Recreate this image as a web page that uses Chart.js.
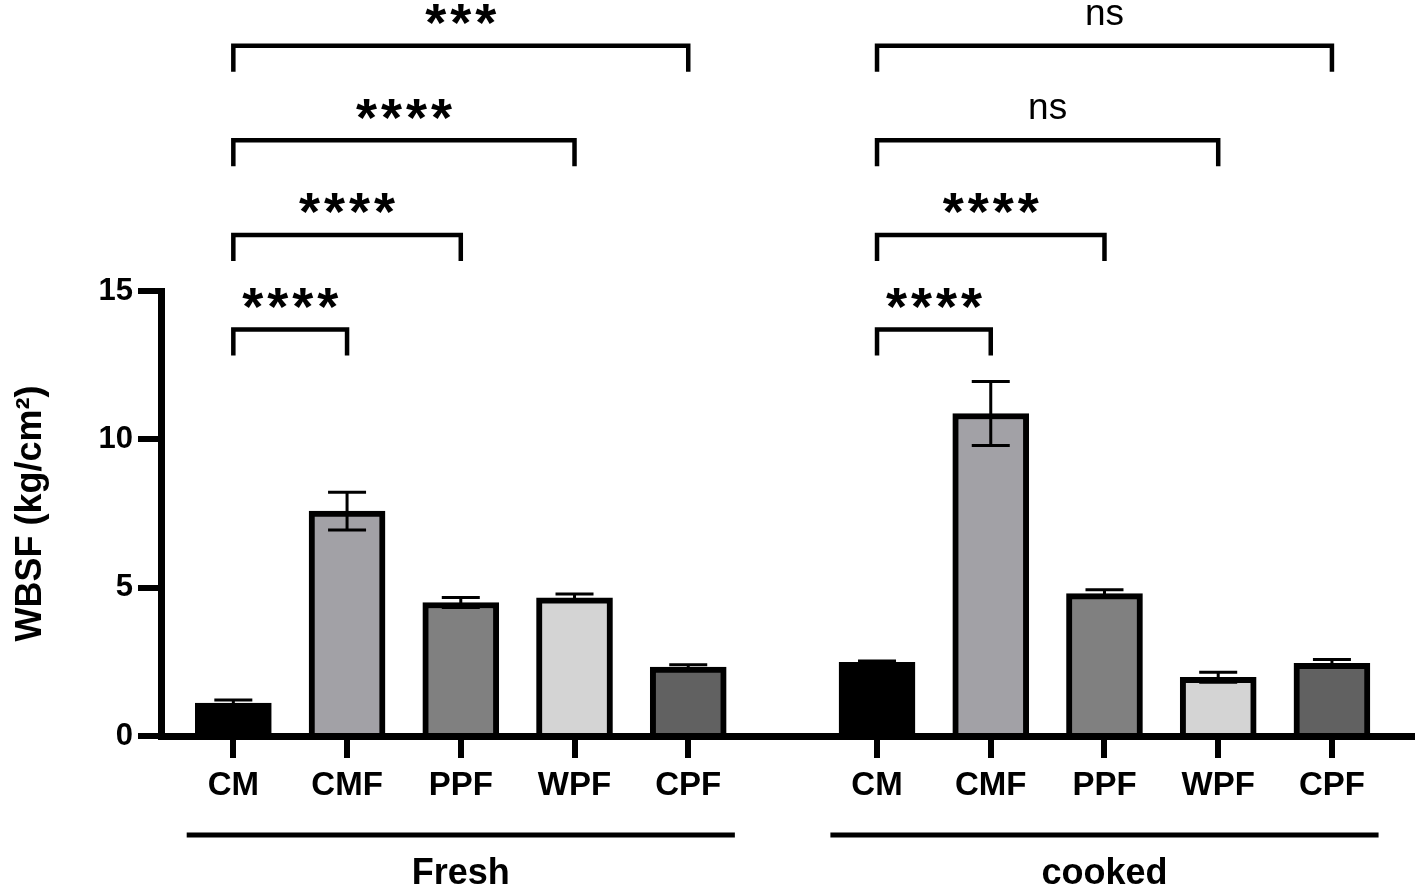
<!DOCTYPE html>
<html>
<head>
<meta charset="utf-8">
<script src="https://cdn.jsdelivr.net/npm/chart.js@4.4.1/dist/chart.umd.min.js"></script>
<style>
html,body{margin:0;padding:0;background:#ffffff;}
#wrap{width:1418px;height:888px;position:relative;}
</style>
</head>
<body>
<div id="wrap"><canvas id="c" width="1418" height="888"></canvas></div>
<script>
// ---------------- data ----------------
const categories = ['CM', 'CMF', 'PPF', 'WPF', 'CPF'];
const groups = ['Fresh', 'cooked'];
const freshMean = [1.11, 7.58, 4.50, 4.66, 2.32];
const freshSem = [0.10, 0.64, 0.17, 0.13, 0.08];
const cookedMean = [2.48, 10.87, 4.80, 1.98, 2.45];
const cookedSem = [0.05, 1.08, 0.13, 0.17, 0.13];
// significance vs CM (for CMF, PPF, WPF, CPF)
const freshSig = ['****', '****', '****', '***'];
const cookedSig = ['****', '****', 'ns', 'ns'];
const yTicks = [0, 5, 10, 15];
const barColors = ['#000000', '#a2a1a6', '#808080', '#d4d4d4', '#616161'];

// ---------------- layout helpers ----------------
const FONT = '"Liberation Sans", Arial, Helvetica, sans-serif';
const groupOffset = 5.66;          // distance (in category slots) between groups
const groupMeans = [freshMean, cookedMean];
const groupSems = [freshSem, cookedSem];
const groupSigs = [freshSig, cookedSig];
const xPositions = groups.map((g, gi) => categories.map((c, ci) => ci + gi * groupOffset));
const allPositions = xPositions.flat();
const tickLabels = groups.map(() => categories).flat();
const bracketBase = 13.7, bracketStep = 3.19;

const datasets = groups.map((g, gi) => ({
  label: g,
  data: categories.map((c, ci) => ({ x: xPositions[gi][ci], y: groupMeans[gi][ci] })),
  sem: groupSems[gi],
  backgroundColor: barColors,
  borderColor: '#000000',
  borderWidth: 6,
  borderSkipped: 'start',
  barThickness: 76,
  grouped: false
}));

const errorBarPlugin = {
  id: 'errorBars',
  afterDatasetsDraw(chart) {
    const ctx = chart.ctx, ys = chart.scales.y;
    chart.data.datasets.forEach((ds, di) => {
      const meta = chart.getDatasetMeta(di);
      meta.data.forEach((bar, i) => {
        const m = ds.data[i].y, e = ds.sem[i];
        const x = bar.x;
        const yt = ys.getPixelForValue(m + e), yb = ys.getPixelForValue(m - e);
        ctx.save();
        ctx.strokeStyle = '#000';
        ctx.lineWidth = 3;
        ctx.beginPath();
        ctx.moveTo(x, yt); ctx.lineTo(x, yb);
        ctx.moveTo(x - 19, yt); ctx.lineTo(x + 19, yt);
        ctx.moveTo(x - 19, yb); ctx.lineTo(x + 19, yb);
        ctx.stroke();
        ctx.restore();
      });
    });
  }
};

function drawCenteredInk(ctx, text, cx, cy) {
  const m = ctx.measureText(text);
  const base = cy + (m.actualBoundingBoxAscent - m.actualBoundingBoxDescent) / 2;
  ctx.textAlign = 'center';
  ctx.textBaseline = 'alphabetic';
  ctx.fillText(text, cx, base);
}

function drawStars(ctx, text, cx, cy) {
  const pitch = 25;
  const n = text.length;
  for (let i = 0; i < n; i++) {
    drawCenteredInk(ctx, text[i], cx + (i - (n - 1) / 2) * pitch, cy);
  }
}

const annotationPlugin = {
  id: 'annotations',
  afterDraw(chart) {
    const ctx = chart.ctx, xs = chart.scales.x, ys = chart.scales.y;
    ctx.save();
    ctx.strokeStyle = '#000';
    ctx.fillStyle = '#000';
    groups.forEach((g, gi) => {
      const pos = xPositions[gi];
      const x1 = xs.getPixelForValue(pos[0]);
      groupSigs[gi].forEach((label, k) => {
        const x2 = xs.getPixelForValue(pos[k + 1]);
        const yl = ys.getPixelForValue(bracketBase + k * bracketStep);
        ctx.lineWidth = 4.5;
        ctx.lineJoin = 'miter';
        ctx.lineCap = 'butt';
        ctx.beginPath();
        ctx.moveTo(x1, yl + 26);
        ctx.lineTo(x1, yl);
        ctx.lineTo(x2, yl);
        ctx.lineTo(x2, yl + 26);
        ctx.stroke();
        if (label === 'ns') {
          ctx.font = '37px ' + FONT;
          drawCenteredInk(ctx, label, (x1 + x2) / 2, yl - 31);
        } else {
          ctx.font = 'bold 54px ' + FONT;
          drawStars(ctx, label, (x1 + x2) / 2, yl - 31);
        }
      });
      // group underline and label
      const gx1 = xs.getPixelForValue(pos[0] - 0.41);
      const gx2 = xs.getPixelForValue(pos[pos.length - 1] + 0.41);
      ctx.lineWidth = 5;
      ctx.beginPath();
      ctx.moveTo(gx1, 835);
      ctx.lineTo(gx2, 835);
      ctx.stroke();
      ctx.font = 'bold 36px ' + FONT;
      ctx.textAlign = 'center';
      ctx.textBaseline = 'alphabetic';
      ctx.fillText(g, (gx1 + gx2) / 2, 884);
    });
    ctx.restore();
  }
};

new Chart(document.getElementById('c'), {
  type: 'bar',
  data: { datasets },
  options: {
    responsive: false,
    devicePixelRatio: 1,
    animation: false,
    layout: { padding: { top: 291, left: 0, right: 6, bottom: 0 } },
    plugins: { legend: { display: false }, tooltip: { enabled: false } },
    scales: {
      x: {
        type: 'linear',
        min: -0.636,
        max: 10.364,
        offset: false,
        afterBuildTicks: (s) => { s.ticks = allPositions.map(v => ({ value: v })); },
        afterFit: (s) => { s.height = 152; },
        ticks: {
          autoSkip: false,
          maxRotation: 0,
          minRotation: 0,
          padding: 8,
          color: '#000',
          font: { family: FONT, size: 33, weight: 'bold' },
          callback: (v, i) => tickLabels[i]
        },
        grid: { display: true, offset: false, drawOnChartArea: false, drawTicks: true, tickLength: 22, lineWidth: 6, color: '#000' },
        border: { display: true, width: 7, color: '#000' }
      },
      y: {
        min: 0,
        max: 15,
        afterBuildTicks: (s) => { s.ticks = yTicks.map(v => ({ value: v })); },
        afterFit: (s) => { s.width = 161; },
        ticks: {
          padding: 5,
          color: '#000',
          font: { family: FONT, size: 31, weight: 'bold' }
        },
        grid: { display: true, drawOnChartArea: false, drawTicks: true, tickLength: 23, lineWidth: 6, color: '#000' },
        border: { display: true, width: 7, color: '#000' },
        title: {
          display: true,
          text: 'WBSF (kg/cm²)',
          color: '#000',
          padding: { top: 9, bottom: 0 },
          font: { family: FONT, size: 36, weight: 'bold' }
        }
      }
    }
  },
  plugins: [errorBarPlugin, annotationPlugin]
});
</script>
</body>
</html>
